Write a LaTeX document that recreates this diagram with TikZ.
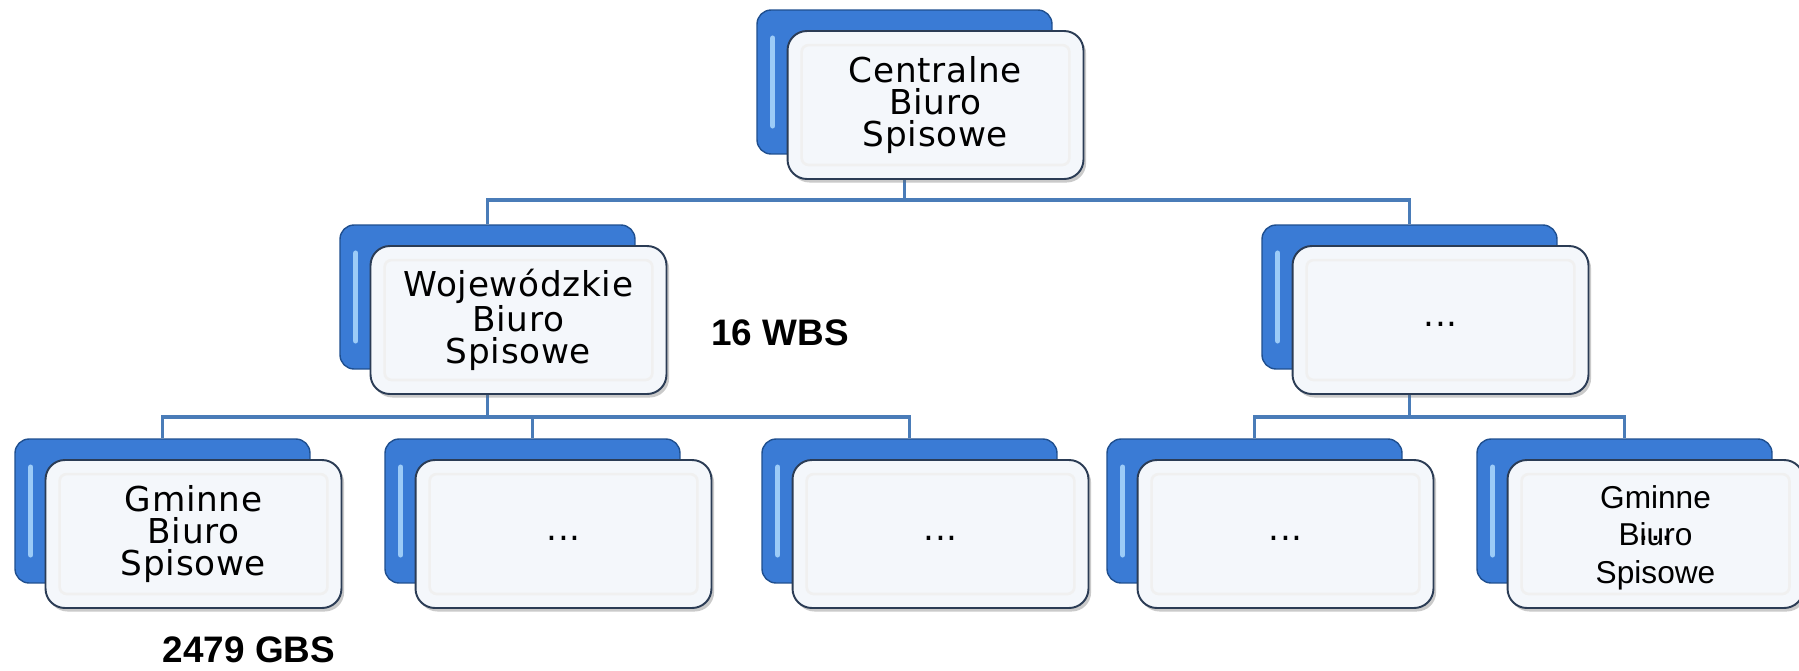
\documentclass[tikz,border=0pt]{standalone}
\usepackage{fontspec}
\setmainfont{Liberation Sans}
\newfontfamily\boxfont[LetterSpace=2]{DejaVu Sans}
\usetikzlibrary{backgrounds,shadows}

\definecolor{boxblue}{HTML}{3A7BD5}
\definecolor{boxedge}{HTML}{1F4F8F}
\definecolor{boxhigh}{HTML}{9CCBF7}
\definecolor{cardfill}{HTML}{F4F7FB}
\definecolor{cardedge}{HTML}{2B3C55}
\definecolor{linkblue}{HTML}{4A7CB8}

\tikzset{
  backcard/.style={draw=boxedge, line width=0.8pt, fill=boxblue, rounded corners=8pt,
    minimum width=5.9cm, minimum height=2.88cm, inner sep=0pt,
    path picture={
      \draw[boxhigh, line width=3pt, line cap=round]
        ([shift={(9pt,-16pt)}]path picture bounding box.north west) --
        ([shift={(9pt,16pt)}]path picture bounding box.south west);
    }},
  frontcard/.style={draw=cardedge, line width=1.1pt, fill=cardfill, rounded corners=11pt,
    minimum width=5.92cm, minimum height=2.96cm, inner sep=0pt, align=center,
    font=\boxfont\fontsize{19.5}{18.1}\selectfont,
    drop shadow={shadow xshift=1.5pt, shadow yshift=-2pt, opacity=0.35, fill=black!60},
    path picture={
      \draw[black!6, line width=1.5pt, rounded corners=4pt]
        ([shift={(8pt,-8pt)}]path picture bounding box.north west) rectangle
        ([shift={(-8pt,8pt)}]path picture bounding box.south east);
    }},
  link/.style={draw=linkblue, line width=2.2pt},
  count/.style={font=\bfseries\fontsize{21}{25}\selectfont}
}

\begin{document}
\begin{tikzpicture}[x=0.02cm, y=-0.02cm]
  \useasboundingbox (0,0) rectangle (1799,670);

  \node[backcard]  (bcbs) at (904.5,82) {};
  \node[frontcard] (cbs)  at ([shift={(31,23)}]bcbs.center) {Centralne\\Biuro\\Spisowe};

  \node[backcard]  (bwbs)  at (487.5,297) {};
  \node[frontcard] (wbs)   at ([shift={(31,23)}]bwbs.center) {Wojewódzkie\\Biuro\\Spisowe};
  \node[backcard]  (bwbs2) at (1409.5,297) {};
  \node[frontcard] (wbs2)  at ([shift={(31,23)}]bwbs2.center) {\strut...};

  \foreach \n/\x/\t in {gbs1/162.5/{Gminne\\Biuro\\Spisowe}, gbs2/532.5/{\strut...},
                        gbs3/909.5/{\strut...}, gbs4/1254.5/{\strut...}, gbs5/1624.5/{\strut...}} {
    \node[backcard]  (b\n) at (\x,511) {};
    \node[frontcard] (\n)  at ([shift={(31,23)}]b\n.center) {\t};
  }
  \node[font=\fontsize{18}{21.4}\selectfont, align=center] (gbs5txt) at ([yshift=-2]gbs5.center) {Gminne\\Biuro\\Spisowe};

  \node[count] (wbscount) at (780,333) {16 WBS};
  \node[count] (gbscount) at (249,650) {2479 GBS};

  \coordinate (bus1) at (904.5,200);
  \coordinate (bus2) at (487.5,417);
  \coordinate (bus3) at (1409.5,417);

  \begin{scope}[on background layer]
    \draw[link] (bcbs.south) -- (bus1);
    \draw[link] (bwbs.north) |- (bus1) -| (bwbs2.north);
    \draw[link] (bwbs.south) -- (bus2);
    \draw[link] (bgbs1.north) |- (bus2) -| (bgbs3.north);
    \draw[link] (bus2 -| bgbs2.north) -- (bgbs2.north);
    \draw[link] (bwbs2.south) -- (bus3);
    \draw[link] (bgbs4.north) |- (bus3) -| (bgbs5.north);
  \end{scope}
\end{tikzpicture}
\end{document}
